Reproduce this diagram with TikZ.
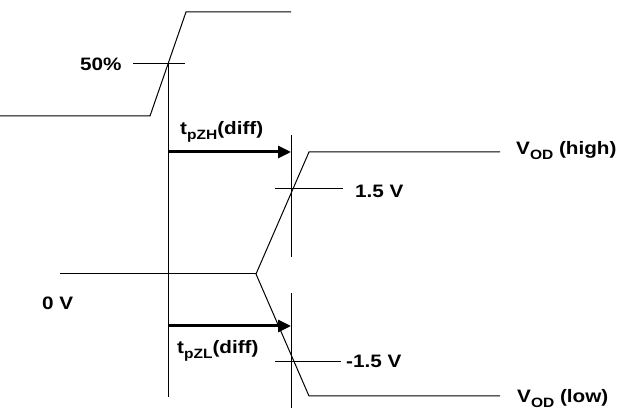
\documentclass[tikz,border=0pt]{standalone}
\usepackage{fontspec}
\setmainfont{Liberation Sans}[FakeStretch=1.15]
\usepackage{graphicx}
\usetikzlibrary{arrows.meta}
\newcommand{\sbs}[1]{\raisebox{-5pt}{\fontsize{13.5}{13.5}\selectfont #1}}
\begin{document}
\begin{tikzpicture}[x=1pt,y=-1pt,
  wave/.style={line width=1pt, line join=miter},
  guide/.style={line width=1pt},
  lbl/.style={font=\bfseries\fontsize{18}{20}\selectfont, inner sep=0pt},
  tarrow/.style={line width=3pt, -{Triangle[length=13pt,width=12pt]}}]
\useasboundingbox (0,0) rectangle (619,411);
% input waveform
\coordinate (i0) at (0,116);
\coordinate (i1) at (150,116);
\coordinate (i2) at (186,12);
\coordinate (i3) at (291,12);
\draw[wave] (i0) -- (i1) -- (i2) -- (i3);
% reference lines
\coordinate (h50a) at (133,64);
\coordinate (h50b) at (185,64);
\draw[guide] (h50a) -- (h50b);
\coordinate (v1a) at (168,64);
\coordinate (v1b) at (168,397);
\draw[guide] (v1a) -- (v1b);
\coordinate (v2a) at (291,135);
\coordinate (v2b) at (291,257);
\coordinate (v2c) at (291,293);
\coordinate (v2d) at (291,408);
\draw[guide] (v2a) -- (v2b);
\draw[guide] (v2c) -- (v2d);
% output waveform
\coordinate (z0) at (60,274);
\coordinate (z1) at (256,274);
\coordinate (hi0) at (309,152);
\coordinate (hi1) at (500,152);
\coordinate (lo0) at (309,396);
\coordinate (lo1) at (500,396);
\draw[wave] (z0) -- (z1);
\draw[wave] (hi1) -- (hi0) -- (z1) -- (lo0) -- (lo1);
% threshold lines
\coordinate (p15a) at (275,189);
\coordinate (p15b) at (343,189);
\coordinate (m15a) at (275,362);
\coordinate (m15b) at (341,362);
\draw[guide] (p15a) -- (p15b);
\draw[guide] (m15a) -- (m15b);
% delay arrows
\coordinate (a1s) at (168,152);
\coordinate (a1e) at (291,152);
\coordinate (a2s) at (168,326);
\coordinate (a2e) at (291,326);
\draw[tarrow] (a1s) -- (a1e);
\draw[tarrow] (a2s) -- (a2e);
% labels
\node[lbl, anchor=base west] (l50) at (80,71) {50\%};
\node[lbl, anchor=base west] (ltzh) at (180,135) {t\sbs{pZH}(diff)};
\node[lbl, anchor=base west] (ltzl) at (177,354) {t\sbs{pZL}(diff)};
\node[lbl, anchor=base west] (l0v) at (42,310) {0 V};
\node[lbl, anchor=base west] (lp15) at (355,198) {1.5 V};
\node[lbl, anchor=base west] (lm15) at (346,368) {-1.5 V};
\node[lbl, anchor=base west] (lvh) at (516,155) {V\sbs{OD} (high)};
\node[lbl, anchor=base west] (lvl) at (517,403) {V\sbs{OD} (low)};
\end{tikzpicture}
\end{document}
